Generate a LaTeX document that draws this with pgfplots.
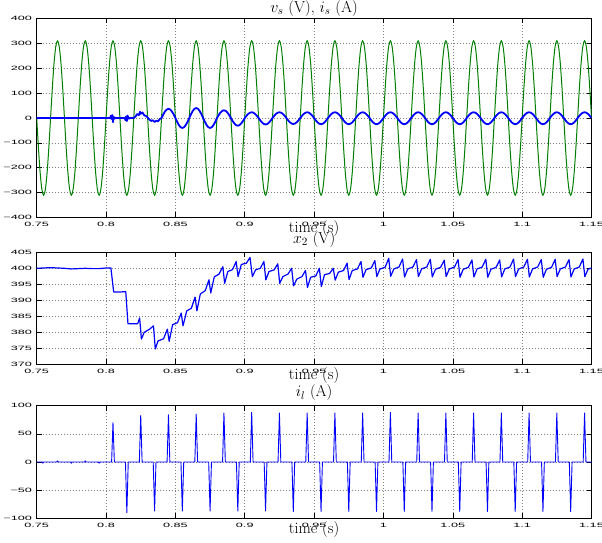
\documentclass[border=0pt]{standalone}
\usepackage{fix-cm}
\usepackage{fontspec}
\usepackage{pgfplots}
\pgfplotsset{compat=1.18}
\newfontfamily\ticksf[FakeStretch=2.05]{Liberation Sans}
\definecolor{mgreen}{rgb}{0,0.5,0}
\pgfplotsset{myax/.style={
  scale only axis, width=554.8bp, anchor=south west,
  xmin=0.75, xmax=1.15,
  xtick={0.75,0.8,0.85,0.9,0.95,1,1.05,1.1,1.15},
  xticklabels={0.75,0.8,0.85,0.9,0.95,1,1.05,1.1,1.15},
  tick align=inside, tick pos=both, ticklabel pos=left,
  major tick length=5bp,
  tick style={black, line width=0.6bp},
  grid=major,
  major grid style={dash pattern=on 0.7bp off 2.3bp, black!50, line width=0.6bp},
  axis line style={line width=1bp},
  tick label style={font=\ticksf\fontsize{6.2}{7}\selectfont},
  xticklabel style={anchor=north, inner sep=0pt, yshift=-4.3bp},
  yticklabel style={anchor=east, inner sep=0pt, xshift=-4.5bp},
  xlabel={time (s)},
  xlabel style={at={(axis description cs:0.5,0)}, anchor=base, yshift=-15bp, inner sep=0pt, font=\fontsize{16}{18}\selectfont},
  title style={at={(axis description cs:0.5,1)}, anchor=base, inner sep=0pt, font=\fontsize{16}{18}\selectfont},
}}
\begin{document}
\begin{tikzpicture}
\useasboundingbox (0,0) rectangle (602bp,543bp);
% ---------------- top ----------------
\begin{axis}[myax, at={(36.7bp,325.5bp)}, height=199bp,
  ymin=-400, ymax=400, ytick={-400,-300,-200,-100,0,100,200,300,400},
  yticklabels={−400,−300,−200,−100,0,100,200,300,400},
  title={$v_s$ (V), $i_s$ (A)}, title style={yshift=0.3bp}]
\addplot[mgreen, line width=1bp, smooth, line join=round] coordinates {
(0.75,0)(0.75125,-119)(0.7525,-220)(0.75375,-287)(0.755,-311)(0.75625,-287)(0.7575,-220)(0.75875,-119)
(0.76,0)(0.76125,119)(0.7625,220)(0.76375,287)(0.765,311)(0.76625,287)(0.7675,220)(0.76875,119)
(0.77,0)(0.77125,-119)(0.7725,-220)(0.77375,-287)(0.775,-311)(0.77625,-287)(0.7775,-220)(0.77875,-119)
(0.78,0)(0.78125,119)(0.7825,220)(0.78375,287)(0.785,311)(0.78625,287)(0.7875,220)(0.78875,119)
(0.79,0)(0.79125,-119)(0.7925,-220)(0.79375,-287)(0.795,-311)(0.79625,-287)(0.7975,-220)(0.79875,-119)
(0.80,0)(0.80125,119)(0.8025,220)(0.80375,287)(0.805,311)(0.80625,287)(0.8075,220)(0.80875,119)
(0.81,0)(0.81125,-119)(0.8125,-220)(0.81375,-287)(0.815,-311)(0.81625,-287)(0.8175,-220)(0.81875,-119)
(0.82,0)(0.82125,119)(0.8225,220)(0.82375,287)(0.825,311)(0.82625,287)(0.8275,220)(0.82875,119)
(0.83,0)(0.83125,-119)(0.8325,-220)(0.83375,-287)(0.835,-311)(0.83625,-287)(0.8375,-220)(0.83875,-119)
(0.84,0)(0.84125,119)(0.8425,220)(0.84375,287)(0.845,311)(0.84625,287)(0.8475,220)(0.84875,119)
(0.85,0)(0.85125,-119)(0.8525,-220)(0.85375,-287)(0.855,-311)(0.85625,-287)(0.8575,-220)(0.85875,-119)
(0.86,0)(0.86125,119)(0.8625,220)(0.86375,287)(0.865,311)(0.86625,287)(0.8675,220)(0.86875,119)
(0.87,0)(0.87125,-119)(0.8725,-220)(0.87375,-287)(0.875,-311)(0.87625,-287)(0.8775,-220)(0.87875,-119)
(0.88,0)(0.88125,119)(0.8825,220)(0.88375,287)(0.885,311)(0.88625,287)(0.8875,220)(0.88875,119)
(0.89,0)(0.89125,-119)(0.8925,-220)(0.89375,-287)(0.895,-311)(0.89625,-287)(0.8975,-220)(0.89875,-119)
(0.90,0)(0.90125,119)(0.9025,220)(0.90375,287)(0.905,311)(0.90625,287)(0.9075,220)(0.90875,119)
(0.91,0)(0.91125,-119)(0.9125,-220)(0.91375,-287)(0.915,-311)(0.91625,-287)(0.9175,-220)(0.91875,-119)
(0.92,0)(0.92125,119)(0.9225,220)(0.92375,287)(0.925,311)(0.92625,287)(0.9275,220)(0.92875,119)
(0.93,0)(0.93125,-119)(0.9325,-220)(0.93375,-287)(0.935,-311)(0.93625,-287)(0.9375,-220)(0.93875,-119)
(0.94,0)(0.94125,119)(0.9425,220)(0.94375,287)(0.945,311)(0.94625,287)(0.9475,220)(0.94875,119)
(0.95,0)(0.95125,-119)(0.9525,-220)(0.95375,-287)(0.955,-311)(0.95625,-287)(0.9575,-220)(0.95875,-119)
(0.96,0)(0.96125,119)(0.9625,220)(0.96375,287)(0.965,311)(0.96625,287)(0.9675,220)(0.96875,119)
(0.97,0)(0.97125,-119)(0.9725,-220)(0.97375,-287)(0.975,-311)(0.97625,-287)(0.9775,-220)(0.97875,-119)
(0.98,0)(0.98125,119)(0.9825,220)(0.98375,287)(0.985,311)(0.98625,287)(0.9875,220)(0.98875,119)
(0.99,0)(0.99125,-119)(0.9925,-220)(0.99375,-287)(0.995,-311)(0.99625,-287)(0.9975,-220)(0.99875,-119)
(1.00,0)(1.00125,119)(1.0025,220)(1.00375,287)(1.005,311)(1.00625,287)(1.0075,220)(1.00875,119)
(1.01,0)(1.01125,-119)(1.0125,-220)(1.01375,-287)(1.015,-311)(1.01625,-287)(1.0175,-220)(1.01875,-119)
(1.02,0)(1.02125,119)(1.0225,220)(1.02375,287)(1.025,311)(1.02625,287)(1.0275,220)(1.02875,119)
(1.03,0)(1.03125,-119)(1.0325,-220)(1.03375,-287)(1.035,-311)(1.03625,-287)(1.0375,-220)(1.03875,-119)
(1.04,0)(1.04125,119)(1.0425,220)(1.04375,287)(1.045,311)(1.04625,287)(1.0475,220)(1.04875,119)
(1.05,0)(1.05125,-119)(1.0525,-220)(1.05375,-287)(1.055,-311)(1.05625,-287)(1.0575,-220)(1.05875,-119)
(1.06,0)(1.06125,119)(1.0625,220)(1.06375,287)(1.065,311)(1.06625,287)(1.0675,220)(1.06875,119)
(1.07,0)(1.07125,-119)(1.0725,-220)(1.07375,-287)(1.075,-311)(1.07625,-287)(1.0775,-220)(1.07875,-119)
(1.08,0)(1.08125,119)(1.0825,220)(1.08375,287)(1.085,311)(1.08625,287)(1.0875,220)(1.08875,119)
(1.09,0)(1.09125,-119)(1.0925,-220)(1.09375,-287)(1.095,-311)(1.09625,-287)(1.0975,-220)(1.09875,-119)
(1.10,0)(1.10125,119)(1.1025,220)(1.10375,287)(1.105,311)(1.10625,287)(1.1075,220)(1.10875,119)
(1.11,0)(1.11125,-119)(1.1125,-220)(1.11375,-287)(1.115,-311)(1.11625,-287)(1.1175,-220)(1.11875,-119)
(1.12,0)(1.12125,119)(1.1225,220)(1.12375,287)(1.125,311)(1.12625,287)(1.1275,220)(1.12875,119)
(1.13,0)(1.13125,-119)(1.1325,-220)(1.13375,-287)(1.135,-311)(1.13625,-287)(1.1375,-220)(1.13875,-119)
(1.14,0)(1.14125,119)(1.1425,220)(1.14375,287)(1.145,311)(1.14625,287)(1.1475,220)(1.14875,119)
(1.15,0)};
\addplot[blue, line width=1.8bp, line join=round] coordinates {
(0.75,0)(0.8,0)(0.803,0)(0.8035,9)(0.804,-4)(0.8045,12)(0.805,-17)(0.8055,5)(0.806,-3)(0.8065,1)(0.807,0)
(0.8135,0)(0.814,-9)(0.8145,6)(0.815,-12)(0.8155,10)(0.816,2)(0.8165,-3)(0.817,0)(0.82,0)
(0.82125,6)(0.8225,16)(0.82375,12)(0.8245,25)(0.825,17)(0.82625,22)(0.8275,11)(0.82875,8)
(0.83,2)(0.83125,-6)(0.8325,-12)(0.83375,-9)(0.835,-16)(0.83625,-11)(0.8375,-13)(0.83875,-4)
(0.84,0)(0.84125,14.2)(0.8425,26.2)(0.84375,34.2)(0.845,37)(0.84625,34.2)(0.8475,26.2)(0.84875,14.2)
(0.85,0)(0.85125,-15.3)(0.8525,-28.3)(0.85375,-37)(0.855,-40)(0.85625,-37)(0.8575,-28.3)(0.85875,-15.3)
(0.86,0)(0.86125,15.3)(0.8625,28.3)(0.86375,37)(0.865,40)(0.86625,37)(0.8675,28.3)(0.86875,15.3)
(0.87,0)(0.87125,-15.3)(0.8725,-28.3)(0.87375,-37)(0.875,-40)(0.87625,-37)(0.8775,-28.3)(0.87875,-15.3)
(0.88,0)(0.88125,11.9)(0.8825,21.9)(0.88375,28.6)(0.885,31)(0.88625,28.6)(0.8875,21.9)(0.88875,11.9)
(0.89,0)(0.89125,-11.9)(0.8925,-21.9)(0.89375,-28.6)(0.895,-31)(0.89625,-28.6)(0.8975,-21.9)(0.89875,-11.9)
(0.90,0)(0.90125,8.8)(0.9025,16.3)(0.90375,21.3)(0.905,23)(0.90625,21.3)(0.9075,16.3)(0.90875,8.8)
(0.91,0)(0.91125,-10)(0.9125,-18.4)(0.91375,-24)(0.915,-26)(0.91625,-24)(0.9175,-18.4)(0.91875,-10)
(0.92,0)(0.92125,8.8)(0.9225,16.3)(0.92375,21.3)(0.925,23)(0.92625,21.3)(0.9275,16.3)(0.92875,8.8)
(0.93,0)(0.93125,-9.2)(0.9325,-17)(0.93375,-22.2)(0.935,-24)(0.93625,-22.2)(0.9375,-17)(0.93875,-9.2)
(0.94,0)(0.94125,8.8)(0.9425,16.3)(0.94375,21.3)(0.945,23)(0.94625,21.3)(0.9475,16.3)(0.94875,8.8)
(0.95,0)(0.95125,-9.6)(0.9525,-17.7)(0.95375,-23.1)(0.955,-25)(0.95625,-23.1)(0.9575,-17.7)(0.95875,-9.6)
(0.96,0)(0.96125,8.8)(0.9625,16.3)(0.96375,21.3)(0.965,23)(0.96625,21.3)(0.9675,16.3)(0.96875,8.8)
(0.97,0)(0.97125,-9.6)(0.9725,-17.7)(0.97375,-23.1)(0.975,-25)(0.97625,-23.1)(0.9775,-17.7)(0.97875,-9.6)
(0.98,0)(0.98125,8.8)(0.9825,16.3)(0.98375,21.3)(0.985,23)(0.98625,21.3)(0.9875,16.3)(0.98875,8.8)
(0.99,0)(0.99125,-9.6)(0.9925,-17.7)(0.99375,-23.1)(0.995,-25)(0.99625,-23.1)(0.9975,-17.7)(0.99875,-9.6)
(1.00,0)(1.00125,8.8)(1.0025,16.3)(1.00375,21.3)(1.005,23)(1.00625,21.3)(1.0075,16.3)(1.00875,8.8)
(1.01,0)(1.01125,-9.6)(1.0125,-17.7)(1.01375,-23.1)(1.015,-25)(1.01625,-23.1)(1.0175,-17.7)(1.01875,-9.6)
(1.02,0)(1.02125,8.8)(1.0225,16.3)(1.02375,21.3)(1.025,23)(1.02625,21.3)(1.0275,16.3)(1.02875,8.8)
(1.03,0)(1.03125,-9.6)(1.0325,-17.7)(1.03375,-23.1)(1.035,-25)(1.03625,-23.1)(1.0375,-17.7)(1.03875,-9.6)
(1.04,0)(1.04125,8.8)(1.0425,16.3)(1.04375,21.3)(1.045,23)(1.04625,21.3)(1.0475,16.3)(1.04875,8.8)
(1.05,0)(1.05125,-9.6)(1.0525,-17.7)(1.05375,-23.1)(1.055,-25)(1.05625,-23.1)(1.0575,-17.7)(1.05875,-9.6)
(1.06,0)(1.06125,8.8)(1.0625,16.3)(1.06375,21.3)(1.065,23)(1.06625,21.3)(1.0675,16.3)(1.06875,8.8)
(1.07,0)(1.07125,-9.6)(1.0725,-17.7)(1.07375,-23.1)(1.075,-25)(1.07625,-23.1)(1.0775,-17.7)(1.07875,-9.6)
(1.08,0)(1.08125,8.8)(1.0825,16.3)(1.08375,21.3)(1.085,23)(1.08625,21.3)(1.0875,16.3)(1.08875,8.8)
(1.09,0)(1.09125,-9.6)(1.0925,-17.7)(1.09375,-23.1)(1.095,-25)(1.09625,-23.1)(1.0975,-17.7)(1.09875,-9.6)
(1.10,0)(1.10125,8.8)(1.1025,16.3)(1.10375,21.3)(1.105,23)(1.10625,21.3)(1.1075,16.3)(1.10875,8.8)
(1.11,0)(1.11125,-9.6)(1.1125,-17.7)(1.11375,-23.1)(1.115,-25)(1.11625,-23.1)(1.1175,-17.7)(1.11875,-9.6)
(1.12,0)(1.12125,8.8)(1.1225,16.3)(1.12375,21.3)(1.125,23)(1.12625,21.3)(1.1275,16.3)(1.12875,8.8)
(1.13,0)(1.13125,-9.6)(1.1325,-17.7)(1.13375,-23.1)(1.135,-25)(1.13625,-23.1)(1.1375,-17.7)(1.13875,-9.6)
(1.14,0)(1.14125,8.8)(1.1425,16.3)(1.14375,21.3)(1.145,23)(1.14625,21.3)(1.1475,16.3)(1.14875,8.8)
(1.15,0)};
\end{axis}
% ---------------- middle ----------------
\begin{axis}[myax, at={(36.7bp,178.7bp)}, height=112bp,
  ymin=370, ymax=405, ytick={370,375,380,385,390,395,400,405},
  yticklabels={370,375,380,385,390,395,400,405},
  title={$x_2$ (V)}, title style={yshift=3bp}]
\addplot[blue, line width=1.2bp, line join=round] coordinates {
(0.75,400)(0.755,400.1)(0.76,400.2)(0.765,400.1)(0.77,400)(0.775,399.8)(0.78,399.9)(0.785,400)(0.79,399.9)(0.795,399.9)(0.8,400.1)(0.8035,400.1)
(0.8055,392.6)(0.81,392.6)(0.8142,392.7)(0.8158,382.7)(0.8228,382.7)
(0.8242,384.5)(0.8255,377.9)(0.8275,380)(0.8315,381)
(0.8342,382)(0.8355,374.8)(0.8375,377.3)(0.8415,378)
(0.8442,381)(0.8455,377.2)(0.848,382.4)(0.8515,383)
(0.8542,386)(0.8555,382)(0.8582,386.7)(0.8615,387.5)
(0.8642,391)(0.8655,386.7)(0.868,392)(0.8715,393)
(0.8742,396.4)(0.8755,392.3)(0.878,397.3)(0.8815,398.2)
(0.8842,400.5)(0.8855,395.3)(0.8878,399)(0.8912,399.6)
(0.8938,402.1)(0.8952,397.4)(0.8975,401.2)(0.9012,401.6)
(0.9038,403.4)(0.9055,397.4)(0.9078,399.5)(0.9112,400)
(0.9138,402.1)(0.9152,396.4)(0.9175,399)(0.9212,399.5)
(0.9238,401.4)(0.9252,395.3)(0.9275,397.4)(0.9312,398.2)
(0.9338,400)(0.9352,394.5)(0.9375,396.6)(0.9412,397.4)
(0.9438,399.3)(0.9452,394)(0.9475,397.2)(0.9512,397.6)
(0.9538,400)(0.9552,394.3)(0.9575,398)(0.9612,398.4)
(0.9638,400)(0.9652,396.3)(0.9675,398.8)(0.9712,399.3)
(0.9738,401.6)(0.9752,396.5)(0.9775,399.3)(0.9812,399.8)
(0.9838,402.1)(0.9852,397.2)(0.9875,399.6)(0.9912,400.1)
(0.9938,402.4)(0.9952,397.4)(0.9975,399.8)(1.0012,400.3)
(1.0038,403.1)(1.0052,397.5)(1.0075,399.8)(1.0112,400.4)
(1.0138,402.9)(1.0152,397.3)(1.0175,399.8)(1.0212,400.4)
(1.0238,402.7)(1.0252,397.4)(1.0275,399.8)(1.0312,400.4)
(1.0338,402.8)(1.0352,397.3)(1.0375,399.7)(1.0412,400.3)
(1.0438,402.5)(1.0452,397.4)(1.0475,399.8)(1.0512,400.4)
(1.0538,402.7)(1.0552,397.2)(1.0575,399.7)(1.0612,400.3)
(1.0638,402.6)(1.0652,397.3)(1.0675,399.8)(1.0712,400.4)
(1.0738,402.8)(1.0752,397.2)(1.0775,399.7)(1.0812,400.3)
(1.0838,402.6)(1.0852,397.3)(1.0875,399.8)(1.0912,400.4)
(1.0938,402.9)(1.0952,397.4)(1.0975,399.8)(1.1012,400.4)
(1.1038,402.8)(1.1052,397.3)(1.1075,399.8)(1.1112,400.4)
(1.1138,402.7)(1.1152,397.2)(1.1175,399.7)(1.1212,400.3)
(1.1238,402.8)(1.1252,397.4)(1.1275,399.8)(1.1312,400.4)
(1.1338,402.7)(1.1352,397.3)(1.1375,399.8)(1.1412,400.4)
(1.1438,402.9)(1.1452,397.4)(1.1475,399.7)(1.15,400.1)};
\end{axis}
% ---------------- bottom ----------------
\begin{axis}[myax, at={(36.7bp,24.7bp)}, height=112.6bp,
  ymin=-100, ymax=100, ytick={-100,-50,0,50,100},
  yticklabels={−100,−50,0,50,100},
  title={$i_l$ (A)}, title style={yshift=3bp}]
\addplot[blue, line width=0.9bp, line join=round] coordinates {
(0.75,0)(0.754,0)(0.7545,-2)(0.755,0)(0.7645,0)(0.765,2)(0.7655,0)(0.7745,0)(0.775,-2)(0.7755,0)
(0.7845,0)(0.785,2)(0.7855,0)(0.7945,0)(0.795,-2)(0.7955,0)
(0.804,0)(0.805,70)(0.806,0)(0.814,0)(0.815,-90)(0.816,0)
(0.824,0)(0.825,83)(0.826,0)(0.834,0)(0.835,-87)(0.836,0)
(0.844,0)(0.845,84)(0.846,0)(0.854,0)(0.855,-87)(0.856,0)
(0.864,0)(0.865,85)(0.866,0)(0.874,0)(0.875,-87)(0.876,0)
(0.884,0)(0.885,87)(0.886,0)(0.894,0)(0.895,-87)(0.896,0)
(0.904,0)(0.905,88)(0.906,0)(0.914,0)(0.915,-87)(0.916,0)
(0.924,0)(0.925,87)(0.926,0)(0.934,0)(0.935,-88)(0.936,0)
(0.944,0)(0.945,87)(0.946,0)(0.954,0)(0.955,-88)(0.956,0)
(0.964,0)(0.965,87)(0.966,0)(0.974,0)(0.975,-88)(0.976,0)
(0.984,0)(0.985,87)(0.986,0)(0.994,0)(0.995,-88)(0.996,0)
(1.004,0)(1.005,88)(1.006,0)(1.014,0)(1.015,-88)(1.016,0)
(1.024,0)(1.025,87)(1.026,0)(1.034,0)(1.035,-88)(1.036,0)
(1.044,0)(1.045,87)(1.046,0)(1.054,0)(1.055,-88)(1.056,0)
(1.064,0)(1.065,87)(1.066,0)(1.074,0)(1.075,-88)(1.076,0)
(1.084,0)(1.085,87)(1.086,0)(1.094,0)(1.095,-88)(1.096,0)
(1.104,0)(1.105,87)(1.106,0)(1.114,0)(1.115,-88)(1.116,0)
(1.124,0)(1.125,87)(1.126,0)(1.134,0)(1.135,-88)(1.136,0)
(1.144,0)(1.145,87)(1.146,0)(1.15,0)};
\end{axis}
\end{tikzpicture}
\end{document}
